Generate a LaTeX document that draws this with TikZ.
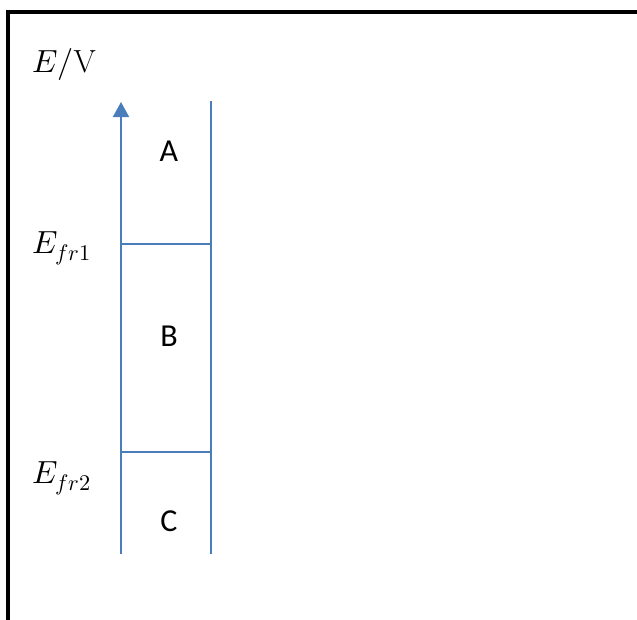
\documentclass[tikz,border=0pt]{standalone}
\usepackage{fontspec}
\usepackage{unicode-math}
\setmathfont{Latin Modern Math}
\newfontfamily\calib{Carlito}
\usetikzlibrary{arrows.meta}
\definecolor{axisblue}{HTML}{4A7EBB}
\tikzset{
  axisline/.style={draw=axisblue, line width=1.7pt},
  region/.style={font=\calib\fontsize{32}{38}\selectfont, anchor=base, inner sep=0pt},
  elabel/.style={font=\fontsize{32}{38}\selectfont, anchor=base west, inner sep=0pt},
  frameline/.style={draw=black, line width=4pt, line join=miter}
}
\begin{document}
\begin{tikzpicture}[x=1pt,y=-1pt]
\useasboundingbox (0,0) rectangle (637,619);
% frame
\coordinate (fbl) at (8,625);
\coordinate (ftl) at (8,12);
\coordinate (ftr) at (645,12);
\draw[frameline] (fbl) -- (ftl) -- (ftr);
% axis and boxes
\coordinate (lb) at (121,554);
\coordinate (lt) at (121,102);
\coordinate (rb) at (211,554);
\coordinate (rt) at (211,101);
\coordinate (h1l) at (121,244);
\coordinate (h1r) at (211,244);
\coordinate (h2l) at (121,452);
\coordinate (h2r) at (211,452);
\draw[axisline, -{Triangle[width=16pt,length=15pt]}] (lb) -- (lt);
\draw[axisline] (rb) -- (rt);
\draw[axisline] (h1l) -- (h1r);
\draw[axisline] (h2l) -- (h2r);
% labels
\node[elabel] (ev) at (32,72) {$E/\mathrm{V}$};
\node[elabel] (ef1) at (32,253) {$E_{fr1}$};
\node[elabel] (ef2) at (32,483) {$E_{fr2}$};
\node[region] (A) at (169,161) {A};
\node[region] (B) at (169,346) {B};
\node[region] (C) at (169,531) {C};
\end{tikzpicture}
\end{document}
